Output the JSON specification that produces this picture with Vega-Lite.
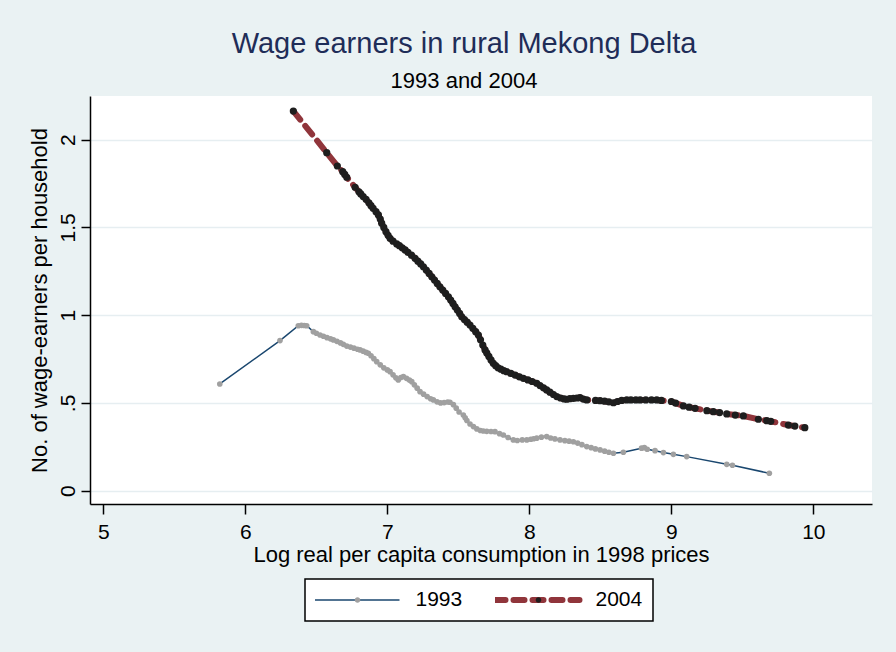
{
 "$schema": "https://vega.github.io/schema/vega-lite/v6.json",
 "width": 782, "height": 408,
 "autosize": {"type": "none"},
 "padding": {"left": 90, "top": 96, "right": 24, "bottom": 148},
 "background": "#EAF2F3",
 "config": {
   "view": {"fill": "white", "stroke": null},
   "font": "Liberation Sans",
   "axis": {"domainColor": "black", "domainWidth": 1.5, "tickColor": "black", "tickWidth": 1.5, "labelFont": "Liberation Sans", "labelFontSize": 21, "labelColor": "black", "titleFont": "Liberation Sans", "titleFontSize": 22, "titleFontWeight": "normal", "titleColor": "black"}
 },
 "title": {"text": "Wage earners in rural Mekong Delta", "subtitle": "1993 and 2004", "anchor": "middle", "frame": "group", "font": "Liberation Sans", "fontSize": 29, "fontWeight": "normal", "color": "#1f2d58", "subtitleFont": "Liberation Sans", "subtitleFontSize": 22, "subtitleColor": "black", "subtitlePadding": 12, "offset": 4, "dx": -17},
 "data": {"values": [
  {"x":5.82,"y":0.608,"year":"1993"},{"x":6.244,"y":0.855,"year":"1993"},{"x":6.373,"y":0.94,"year":"1993"},{"x":6.395,"y":0.942,"year":"1993"},{"x":6.415,"y":0.941,"year":"1993"},{"x":6.432,"y":0.94,"year":"1993"},{"x":6.479,"y":0.906,"year":"1993"},{"x":6.5,"y":0.897,"year":"1993"},{"x":6.526,"y":0.887,"year":"1993"},{"x":6.55,"y":0.88,"year":"1993"},{"x":6.575,"y":0.872,"year":"1993"},{"x":6.6,"y":0.865,"year":"1993"},{"x":6.62,"y":0.859,"year":"1993"},{"x":6.645,"y":0.851,"year":"1993"},{"x":6.67,"y":0.842,"year":"1993"},{"x":6.69,"y":0.834,"year":"1993"},{"x":6.714,"y":0.824,"year":"1993"},{"x":6.74,"y":0.818,"year":"1993"},{"x":6.765,"y":0.812,"year":"1993"},{"x":6.79,"y":0.806,"year":"1993"},{"x":6.808,"y":0.802,"year":"1993"},{"x":6.83,"y":0.795,"year":"1993"},{"x":6.85,"y":0.788,"year":"1993"},{"x":6.866,"y":0.783,"year":"1993"},{"x":6.885,"y":0.769,"year":"1993"},{"x":6.905,"y":0.752,"year":"1993"},{"x":6.925,"y":0.735,"year":"1993"},{"x":6.95,"y":0.717,"year":"1993"},{"x":6.975,"y":0.7,"year":"1993"},{"x":7.0,"y":0.688,"year":"1993"},{"x":7.019,"y":0.678,"year":"1993"},{"x":7.04,"y":0.66,"year":"1993"},{"x":7.06,"y":0.643,"year":"1993"},{"x":7.077,"y":0.631,"year":"1993"},{"x":7.095,"y":0.645,"year":"1993"},{"x":7.113,"y":0.65,"year":"1993"},{"x":7.135,"y":0.64,"year":"1993"},{"x":7.155,"y":0.63,"year":"1993"},{"x":7.172,"y":0.621,"year":"1993"},{"x":7.19,"y":0.603,"year":"1993"},{"x":7.21,"y":0.584,"year":"1993"},{"x":7.23,"y":0.564,"year":"1993"},{"x":7.255,"y":0.55,"year":"1993"},{"x":7.28,"y":0.536,"year":"1993"},{"x":7.305,"y":0.524,"year":"1993"},{"x":7.324,"y":0.517,"year":"1993"},{"x":7.35,"y":0.506,"year":"1993"},{"x":7.375,"y":0.5,"year":"1993"},{"x":7.4,"y":0.502,"year":"1993"},{"x":7.425,"y":0.505,"year":"1993"},{"x":7.441,"y":0.504,"year":"1993"},{"x":7.465,"y":0.49,"year":"1993"},{"x":7.485,"y":0.47,"year":"1993"},{"x":7.505,"y":0.448,"year":"1993"},{"x":7.535,"y":0.431,"year":"1993"},{"x":7.548,"y":0.415,"year":"1993"},{"x":7.56,"y":0.4,"year":"1993"},{"x":7.582,"y":0.38,"year":"1993"},{"x":7.606,"y":0.365,"year":"1993"},{"x":7.63,"y":0.352,"year":"1993"},{"x":7.655,"y":0.343,"year":"1993"},{"x":7.676,"y":0.34,"year":"1993"},{"x":7.7,"y":0.338,"year":"1993"},{"x":7.73,"y":0.337,"year":"1993"},{"x":7.758,"y":0.336,"year":"1993"},{"x":7.79,"y":0.325,"year":"1993"},{"x":7.817,"y":0.317,"year":"1993"},{"x":7.85,"y":0.303,"year":"1993"},{"x":7.887,"y":0.289,"year":"1993"},{"x":7.915,"y":0.286,"year":"1993"},{"x":7.95,"y":0.289,"year":"1993"},{"x":7.982,"y":0.289,"year":"1993"},{"x":8.01,"y":0.293,"year":"1993"},{"x":8.03,"y":0.296,"year":"1993"},{"x":8.052,"y":0.299,"year":"1993"},{"x":8.085,"y":0.305,"year":"1993"},{"x":8.122,"y":0.308,"year":"1993"},{"x":8.15,"y":0.3,"year":"1993"},{"x":8.18,"y":0.295,"year":"1993"},{"x":8.216,"y":0.289,"year":"1993"},{"x":8.25,"y":0.285,"year":"1993"},{"x":8.28,"y":0.282,"year":"1993"},{"x":8.31,"y":0.279,"year":"1993"},{"x":8.34,"y":0.271,"year":"1993"},{"x":8.37,"y":0.262,"year":"1993"},{"x":8.404,"y":0.251,"year":"1993"},{"x":8.435,"y":0.245,"year":"1993"},{"x":8.465,"y":0.238,"year":"1993"},{"x":8.498,"y":0.232,"year":"1993"},{"x":8.53,"y":0.225,"year":"1993"},{"x":8.56,"y":0.219,"year":"1993"},{"x":8.592,"y":0.213,"year":"1993"},{"x":8.662,"y":0.219,"year":"1993"},{"x":8.79,"y":0.242,"year":"1993"},{"x":8.81,"y":0.245,"year":"1993"},{"x":8.83,"y":0.236,"year":"1993"},{"x":8.885,"y":0.228,"year":"1993"},{"x":8.944,"y":0.217,"year":"1993"},{"x":9.014,"y":0.207,"year":"1993"},{"x":9.108,"y":0.194,"year":"1993"},{"x":9.39,"y":0.15,"year":"1993"},{"x":9.43,"y":0.145,"year":"1993"},{"x":9.69,"y":0.099,"year":"1993"},
  {"x":6.338,"y":2.163,"year":"2004"},{"x":6.573,"y":1.926,"year":"2004"},{"x":6.648,"y":1.85,"year":"2004"},{"x":6.686,"y":1.818,"year":"2004"},{"x":6.7,"y":1.802,"year":"2004"},{"x":6.714,"y":1.786,"year":"2004"},{"x":6.773,"y":1.729,"year":"2004"},{"x":6.8,"y":1.703,"year":"2004"},{"x":6.813,"y":1.691,"year":"2004"},{"x":6.83,"y":1.676,"year":"2004"},{"x":6.85,"y":1.66,"year":"2004"},{"x":6.87,"y":1.64,"year":"2004"},{"x":6.885,"y":1.624,"year":"2004"},{"x":6.9,"y":1.609,"year":"2004"},{"x":6.92,"y":1.59,"year":"2004"},{"x":6.937,"y":1.571,"year":"2004"},{"x":6.95,"y":1.548,"year":"2004"},{"x":6.96,"y":1.524,"year":"2004"},{"x":6.975,"y":1.5,"year":"2004"},{"x":6.99,"y":1.476,"year":"2004"},{"x":7.005,"y":1.455,"year":"2004"},{"x":7.019,"y":1.438,"year":"2004"},{"x":7.04,"y":1.422,"year":"2004"},{"x":7.066,"y":1.406,"year":"2004"},{"x":7.085,"y":1.396,"year":"2004"},{"x":7.105,"y":1.384,"year":"2004"},{"x":7.125,"y":1.372,"year":"2004"},{"x":7.145,"y":1.358,"year":"2004"},{"x":7.17,"y":1.342,"year":"2004"},{"x":7.195,"y":1.324,"year":"2004"},{"x":7.215,"y":1.308,"year":"2004"},{"x":7.235,"y":1.292,"year":"2004"},{"x":7.254,"y":1.276,"year":"2004"},{"x":7.274,"y":1.257,"year":"2004"},{"x":7.294,"y":1.238,"year":"2004"},{"x":7.313,"y":1.219,"year":"2004"},{"x":7.332,"y":1.2,"year":"2004"},{"x":7.351,"y":1.181,"year":"2004"},{"x":7.37,"y":1.162,"year":"2004"},{"x":7.39,"y":1.143,"year":"2004"},{"x":7.41,"y":1.124,"year":"2004"},{"x":7.43,"y":1.105,"year":"2004"},{"x":7.446,"y":1.086,"year":"2004"},{"x":7.462,"y":1.067,"year":"2004"},{"x":7.477,"y":1.048,"year":"2004"},{"x":7.493,"y":1.029,"year":"2004"},{"x":7.509,"y":1.01,"year":"2004"},{"x":7.524,"y":0.991,"year":"2004"},{"x":7.543,"y":0.975,"year":"2004"},{"x":7.562,"y":0.96,"year":"2004"},{"x":7.582,"y":0.944,"year":"2004"},{"x":7.602,"y":0.925,"year":"2004"},{"x":7.622,"y":0.906,"year":"2004"},{"x":7.641,"y":0.887,"year":"2004"},{"x":7.656,"y":0.86,"year":"2004"},{"x":7.672,"y":0.83,"year":"2004"},{"x":7.688,"y":0.802,"year":"2004"},{"x":7.7,"y":0.785,"year":"2004"},{"x":7.715,"y":0.765,"year":"2004"},{"x":7.73,"y":0.745,"year":"2004"},{"x":7.746,"y":0.726,"year":"2004"},{"x":7.763,"y":0.712,"year":"2004"},{"x":7.78,"y":0.7,"year":"2004"},{"x":7.8,"y":0.692,"year":"2004"},{"x":7.82,"y":0.684,"year":"2004"},{"x":7.84,"y":0.678,"year":"2004"},{"x":7.87,"y":0.668,"year":"2004"},{"x":7.9,"y":0.659,"year":"2004"},{"x":7.93,"y":0.649,"year":"2004"},{"x":7.958,"y":0.64,"year":"2004"},{"x":7.99,"y":0.631,"year":"2004"},{"x":8.02,"y":0.622,"year":"2004"},{"x":8.052,"y":0.612,"year":"2004"},{"x":8.075,"y":0.599,"year":"2004"},{"x":8.1,"y":0.586,"year":"2004"},{"x":8.122,"y":0.574,"year":"2004"},{"x":8.145,"y":0.561,"year":"2004"},{"x":8.17,"y":0.548,"year":"2004"},{"x":8.193,"y":0.536,"year":"2004"},{"x":8.22,"y":0.528,"year":"2004"},{"x":8.245,"y":0.523,"year":"2004"},{"x":8.263,"y":0.521,"year":"2004"},{"x":8.285,"y":0.524,"year":"2004"},{"x":8.31,"y":0.526,"year":"2004"},{"x":8.335,"y":0.528,"year":"2004"},{"x":8.357,"y":0.53,"year":"2004"},{"x":8.38,"y":0.522,"year":"2004"},{"x":8.404,"y":0.517,"year":"2004"},{"x":8.466,"y":0.514,"year":"2004"},{"x":8.498,"y":0.513,"year":"2004"},{"x":8.53,"y":0.51,"year":"2004"},{"x":8.56,"y":0.506,"year":"2004"},{"x":8.592,"y":0.501,"year":"2004"},{"x":8.62,"y":0.508,"year":"2004"},{"x":8.65,"y":0.514,"year":"2004"},{"x":8.686,"y":0.517,"year":"2004"},{"x":8.715,"y":0.517,"year":"2004"},{"x":8.75,"y":0.517,"year":"2004"},{"x":8.78,"y":0.517,"year":"2004"},{"x":8.82,"y":0.517,"year":"2004"},{"x":8.86,"y":0.517,"year":"2004"},{"x":8.897,"y":0.517,"year":"2004"},{"x":8.93,"y":0.514,"year":"2004"},{"x":9.0,"y":0.508,"year":"2004"},{"x":9.03,"y":0.499,"year":"2004"},{"x":9.085,"y":0.483,"year":"2004"},{"x":9.125,"y":0.476,"year":"2004"},{"x":9.167,"y":0.469,"year":"2004"},{"x":9.25,"y":0.456,"year":"2004"},{"x":9.296,"y":0.45,"year":"2004"},{"x":9.34,"y":0.445,"year":"2004"},{"x":9.39,"y":0.437,"year":"2004"},{"x":9.45,"y":0.431,"year":"2004"},{"x":9.507,"y":0.426,"year":"2004"},{"x":9.613,"y":0.407,"year":"2004"},{"x":9.672,"y":0.399,"year":"2004"},{"x":9.7,"y":0.395,"year":"2004"},{"x":9.824,"y":0.374,"year":"2004"},{"x":9.87,"y":0.368,"year":"2004"},{"x":9.94,"y":0.359,"year":"2004"}
 ]},
 "encoding": {
   "x": {"field": "x", "type": "quantitative", "scale": {"domain": [4.906, 10.413], "nice": false, "zero": false}, "axis": {"values": [5,6,7,8,9,10], "format": "d", "title": "Log real per capita consumption in 1998 prices", "grid": false, "tickSize": 10, "labelPadding": 7, "titlePadding": 2}},
   "y": {"field": "y", "type": "quantitative", "scale": {"domain": [-0.076, 2.249], "nice": false, "zero": false}, "axis": {"values": [0,0.5,1,1.5,2], "labelExpr": "datum.value === 0.5 ? '.5' : toString(datum.value)", "title": "No. of wage-earners per household", "grid": true, "gridColor": "#E6EEF1", "gridWidth": 1.5, "tickSize": 9, "labelAngle": -90, "labelAlign": "center", "labelBaseline": "bottom", "labelPadding": 3, "titleX": -39, "titleY": 204, "titleAngle": -90, "titleAlign": "center", "titleBaseline": "bottom"}}
 },
 "layer": [
  {"transform": [{"filter": "datum.year == '1993'"}], "mark": {"type": "line", "strokeWidth": 1.5},
   "encoding": {"color": {"field": "year", "type": "nominal", "scale": {"domain": ["1993","2004"], "range": ["#1a476f","#90353b"]},
     "legend": {"title": null, "orient": "none", "legendX": 215, "legendY": 483, "direction": "horizontal", "columns": 2, "columnPadding": 32, "padding": 10, "fillColor": "white", "strokeColor": "black", "symbolType": "M-4.25,0H4.25", "symbolSize": 400, "symbolOffset": 31.5, "clipHeight": 22, "labelFont": "Liberation Sans", "labelFontSize": 21, "labelColor": "black", "labelOffset": 48,
       "encode": {"legend": {"update": {"strokeWidth": {"value": 1.5}}}, "symbols": {"update": {"strokeWidth": {"signal": "datum.value == '2004' ? 6 : 1.5"}, "strokeDash": {"signal": "datum.value == '2004' ? [11, 8] : [1, 0]"}, "strokeCap": {"signal": "datum.value == '2004' ? 'round' : 'butt'"}}}}}}}},
  {"transform": [{"filter": "datum.year == '2004'"}], "mark": {"type": "line", "strokeWidth": 6, "strokeDash": [11, 8], "strokeCap": "round"},
   "encoding": {"color": {"field": "year", "type": "nominal", "scale": {"domain": ["1993","2004"], "range": ["#1a476f","#90353b"]},
     "legend": {"title": null, "orient": "none", "legendX": 215, "legendY": 483, "direction": "horizontal", "columns": 2, "columnPadding": 32, "padding": 10, "fillColor": "white", "strokeColor": "black", "symbolType": "M-4.25,0H4.25", "symbolSize": 400, "symbolOffset": 31.5, "clipHeight": 22, "labelFont": "Liberation Sans", "labelFontSize": 21, "labelColor": "black", "labelOffset": 48,
       "encode": {"legend": {"update": {"strokeWidth": {"value": 1.5}}}, "symbols": {"update": {"strokeWidth": {"signal": "datum.value == '2004' ? 6 : 1.5"}, "strokeDash": {"signal": "datum.value == '2004' ? [11, 8] : [1, 0]"}, "strokeCap": {"signal": "datum.value == '2004' ? 'round' : 'butt'"}}}}}}}},
  {"transform": [{"filter": "datum.year == '1993'"}], "mark": {"type": "point", "filled": true, "size": 32, "opacity": 1, "strokeWidth": 0},
   "encoding": {"fill": {"field": "year", "type": "nominal", "scale": {"range": ["#a0a0a0","#1e1e1e"]},
     "legend": {"title": null, "orient": "none", "legendX": 215, "legendY": 483, "direction": "horizontal", "columns": 2, "columnPadding": 32, "padding": 10, "symbolType": "M-4.25,0H4.25M0.28,0A0.28,0.28,0,1,1,-0.28,0A0.28,0.28,0,1,1,0.28,0Z", "symbolSize": 400, "symbolOffset": 31.5, "clipHeight": 22, "labelFont": "Liberation Sans", "labelFontSize": 21, "labelExpr": "''", "labelOffset": 94.7,
       "encode": {"symbols": {"update": {"strokeWidth": {"signal": "datum.value == '2004' ? 6 : 1.5"}, "stroke": {"value": "transparent"}}}}}}}},
  {"transform": [{"filter": "datum.year == '2004'"}], "mark": {"type": "point", "filled": true, "size": 52, "opacity": 1, "strokeWidth": 0},
   "encoding": {"fill": {"field": "year", "type": "nominal", "scale": {"range": ["#a0a0a0","#1e1e1e"]},
     "legend": {"title": null, "orient": "none", "legendX": 215, "legendY": 483, "direction": "horizontal", "columns": 2, "columnPadding": 32, "padding": 10, "symbolType": "M-4.25,0H4.25M0.28,0A0.28,0.28,0,1,1,-0.28,0A0.28,0.28,0,1,1,0.28,0Z", "symbolSize": 400, "symbolOffset": 31.5, "clipHeight": 22, "labelFont": "Liberation Sans", "labelFontSize": 21, "labelExpr": "''", "labelOffset": 94.7,
       "encode": {"symbols": {"update": {"strokeWidth": {"signal": "datum.value == '2004' ? 6 : 1.5"}, "stroke": {"value": "transparent"}}}}}}}}
 ]
}
